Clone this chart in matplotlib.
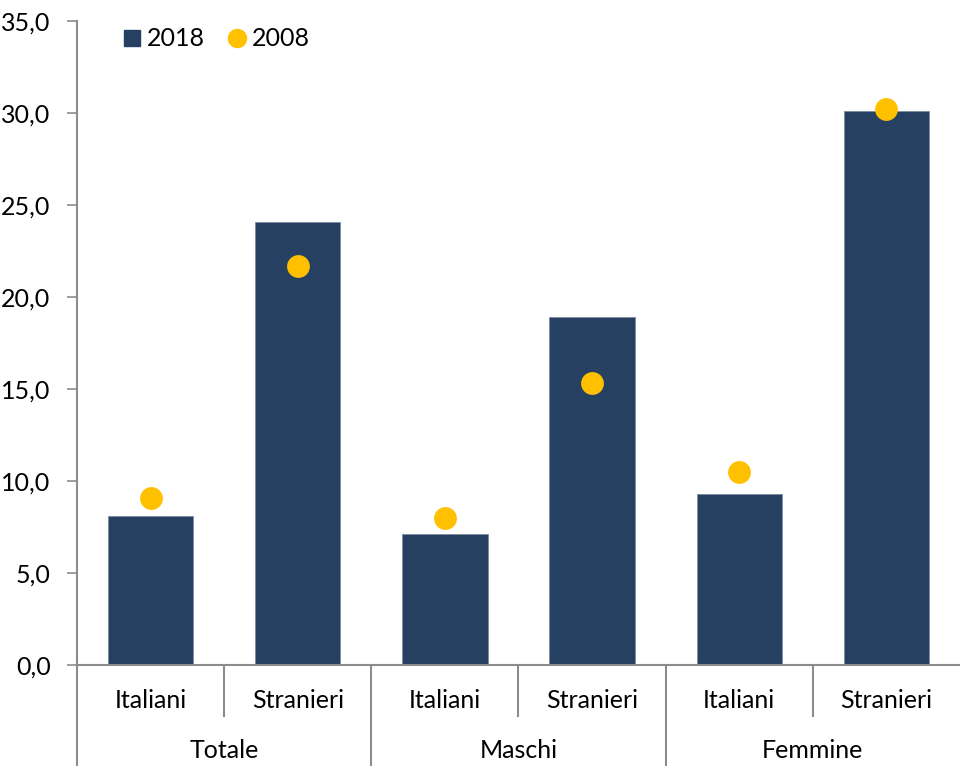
import numpy as np
import matplotlib.pyplot as plt
from matplotlib.lines import Line2D
from matplotlib.ticker import FuncFormatter

plt.rcParams['font.family'] = ['Lato', 'DejaVu Sans']

# Tasso per gruppo: barre 2018, punti 2008
groups = ['Totale', 'Maschi', 'Femmine']
categories = ['Italiani', 'Stranieri'] * 3
values_2018 = [8.1, 24.1, 7.1, 18.9, 9.3, 30.1]
values_2008 = [9.1, 21.7, 8.0, 15.3, 10.5, 30.2]

bar_color = '#264061'
dot_color = '#FFC000'
axis_color = '#8c8c8c'
fs = 18

fig = plt.figure(figsize=(9.6, 7.66), dpi=100)
ax = fig.add_axes([0.0802, 0.1319, 0.9198, 0.8407])

x = np.arange(len(categories))
ax.bar(x, values_2018, width=0.58, color=bar_color, edgecolor='#7d8ca0',
       linewidth=0.6, zorder=2)
ax.scatter(x, values_2008, s=270, color=dot_color, zorder=3, linewidths=0)

ax.set_xlim(-0.5, len(categories) - 0.5)
ax.set_ylim(0, 35)
ax.set_yticks(np.arange(0, 36, 5))
ax.yaxis.set_major_formatter(FuncFormatter(lambda v, p: f'{v:.1f}'.replace('.', ',')))
ax.tick_params(axis='y', direction='out', length=7, width=1.2, color=axis_color,
               labelsize=fs, pad=12)
ax.set_xticks([])

for side in ['top', 'right']:
    ax.spines[side].set_visible(False)
for side in ['left', 'bottom']:
    ax.spines[side].set_color(axis_color)
    ax.spines[side].set_linewidth(1.5)

# Etichette a due livelli sull'asse x
trans = ax.get_xaxis_transform()
for i, cat in enumerate(categories):
    ax.text(i, -0.055, cat, transform=trans, ha='center', va='center', fontsize=fs)
for g, name in enumerate(groups):
    ax.text(2 * g + 0.5, -0.133, name, transform=trans, ha='center', va='center',
            fontsize=fs)

# Separatori tra categorie e gruppi
for b in np.arange(0.5, len(categories) - 1, 1.0):
    is_group = int(round(b + 0.5)) % 2 == 0
    y_end = -0.2 if is_group else -0.08
    ax.add_line(Line2D([b, b], [0, y_end], transform=trans, color=axis_color,
                       linewidth=1.5, clip_on=False))
ax.add_line(Line2D([-0.5, -0.5], [0, -0.2], transform=trans, color=axis_color,
                   linewidth=1.5, clip_on=False))

handles = [
    Line2D([], [], marker='s', linestyle='none', markersize=11,
           markerfacecolor=bar_color, markeredgecolor=bar_color, label='2018'),
    Line2D([], [], marker='o', linestyle='none', markersize=13,
           markerfacecolor=dot_color, markeredgecolor=dot_color, label='2008'),
]
ax.legend(handles=handles, loc='upper left', bbox_to_anchor=(0.025, 1.025), ncol=2,
          frameon=False, fontsize=fs, handletextpad=0.2, columnspacing=0.9,
          handlelength=0.8)

fig.savefig('out.png', dpi=100)
